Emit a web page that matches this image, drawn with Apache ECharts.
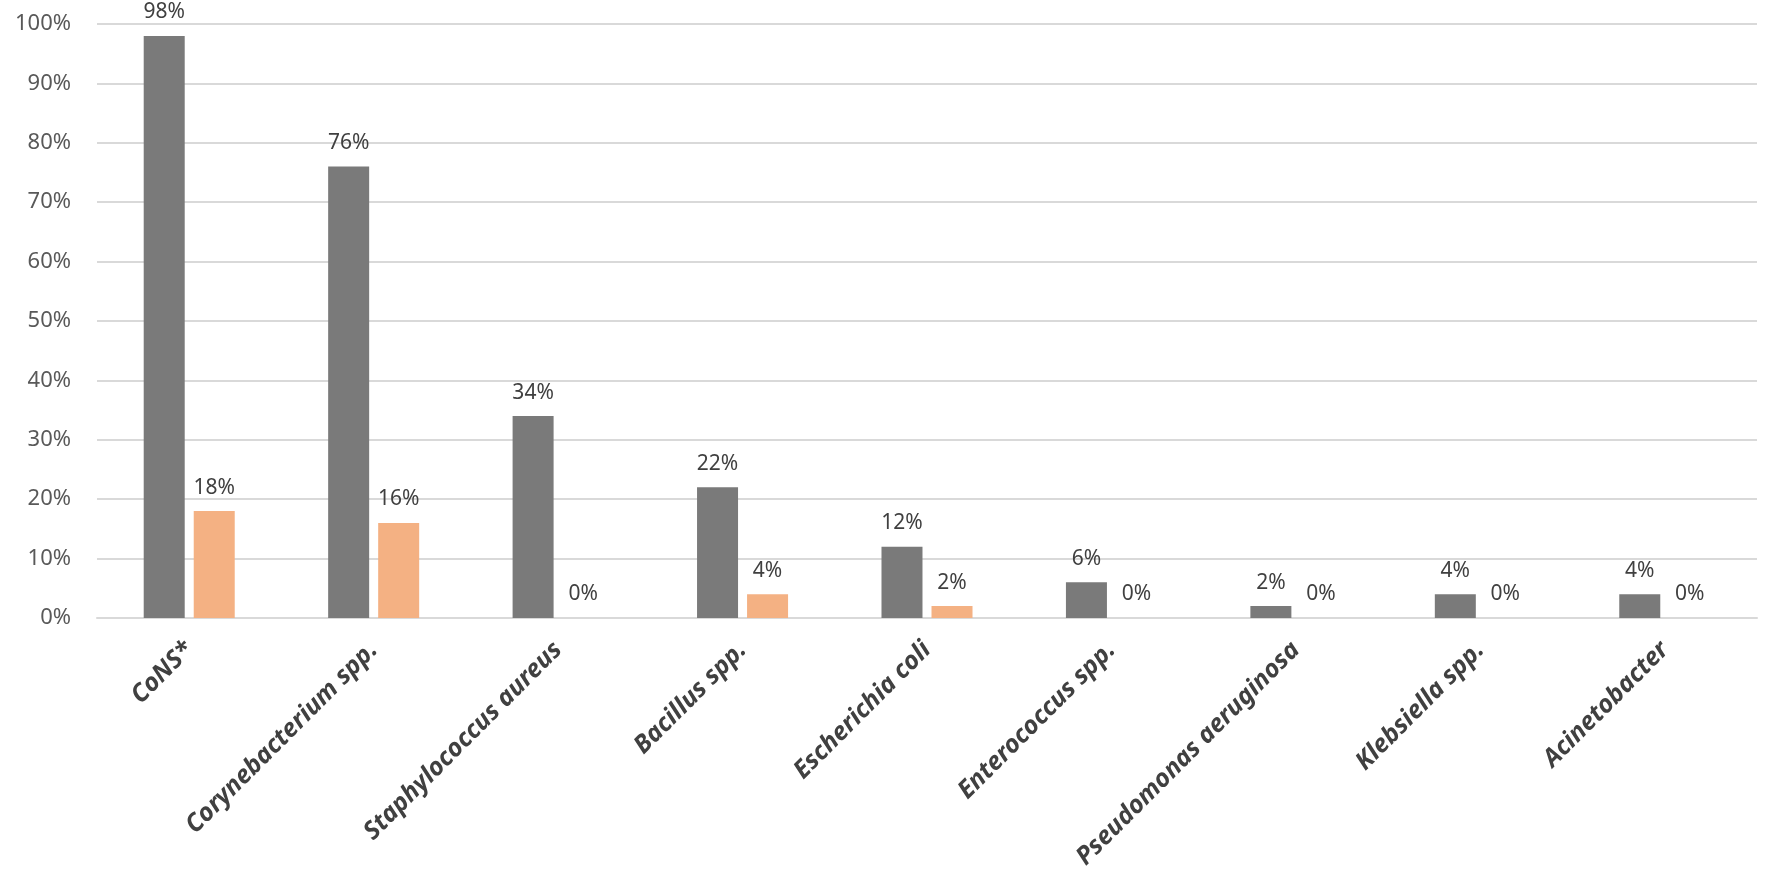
<!DOCTYPE html>
<html>
<head>
<meta charset="utf-8">
<script src="https://cdn.jsdelivr.net/npm/echarts@6/dist/echarts.min.js"></script>
<style>html,body{margin:0;padding:0;background:#fff;}#c{width:1767px;height:889px;}</style>
</head>
<body>
<div id="c"></div>
<script>
const categories = ['CoNS*','Corynebacterium spp.','Staphylococcus aureus','Bacillus spp.','Escherichia coli','Enterococcus spp.','Pseudomonas aeruginosa','Klebsiella spp.','Acinetobacter'];
const seriesA = [98,76,34,22,12,6,2,4,4];
const seriesB = [18,16,0,4,2,0,0,0,0];
const yTicks = [0,10,20,30,40,50,60,70,80,90,100];

const chart = echarts.init(document.getElementById('c'));
const labelStyle = {show:true, position:'top', distance:13, formatter:'{c}%', color:'#404040', fontSize:21, fontFamily:'Noto Sans'};
chart.setOption({
  animation:false,
  grid:{left:97, right:10, top:24, bottom:271, containLabel:false},
  xAxis:{
    type:'category', data:categories,
    axisLine:{lineStyle:{color:'#d9d9d9', width:2}},
    axisTick:{show:false},
    axisLabel:{rotate:45, interval:0, margin:28, color:'#404040', fontSize:25, fontWeight:'bold', fontStyle:'italic', fontFamily:'Noto Sans'}
  },
  yAxis:{
    type:'value', min:yTicks[0], max:yTicks[yTicks.length-1], interval:10,
    axisLine:{show:false}, axisTick:{show:false},
    splitLine:{lineStyle:{color:'#d9d9d9', width:2}},
    axisLabel:{formatter:'{value}%', color:'#595959', fontSize:22, fontFamily:'Noto Sans', margin:26}
  },
  series:[
    {type:'bar', data:seriesA, barWidth:41, barGap:'22%', itemStyle:{color:'#7a7a7a'}, label:labelStyle},
    {type:'bar', data:seriesB, barWidth:41, itemStyle:{color:'#f4b183'}, label:labelStyle}
  ]
});
</script>
</body>
</html>
